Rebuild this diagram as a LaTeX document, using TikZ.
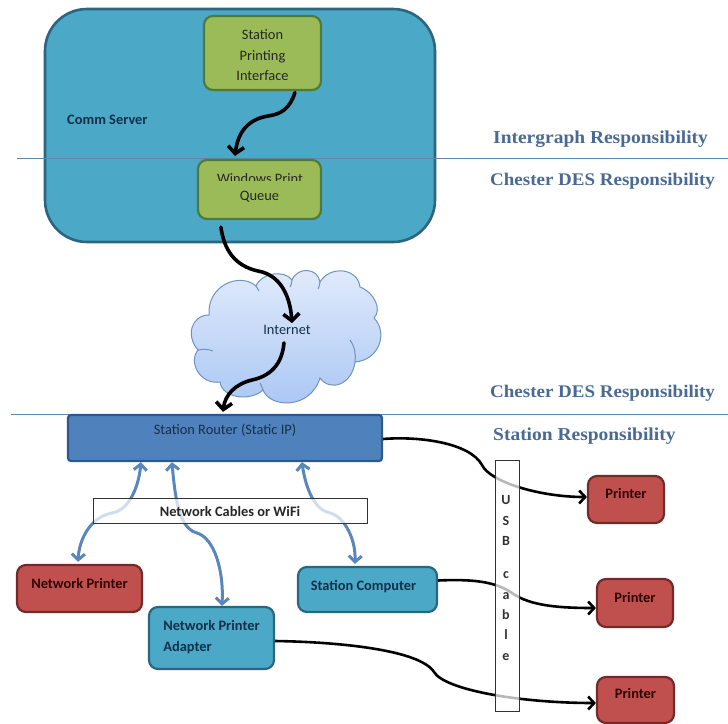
\documentclass[tikz,border=0pt]{standalone}
\usepackage{fontspec}
\setmainfont{Carlito}
\newfontfamily\headfont[FakeStretch=1.07]{Liberation Serif}
\usetikzlibrary{arrows.meta}
\definecolor{servfill}{HTML}{4BA8C6}
\definecolor{servline}{HTML}{2B6580}
\definecolor{greenfill}{HTML}{9BBB59}
\definecolor{greenline}{HTML}{4F7A3C}
\definecolor{redfill}{HTML}{C0504D}
\definecolor{redline}{HTML}{74292A}
\definecolor{routerfill}{HTML}{4F81BD}
\definecolor{routerline}{HTML}{2C5A88}
\definecolor{sepline}{HTML}{5E87A8}
\definecolor{headcol}{HTML}{4A6A92}
\definecolor{navytext}{HTML}{12304A}
\definecolor{cloudtop}{HTML}{E2EBFB}
\definecolor{cloudbot}{HTML}{A9C6F4}
\definecolor{cloudline}{HTML}{6F93BD}
\definecolor{netblue}{HTML}{5A86BC}
\tikzset{
  boxbase/.style={draw,line width=2.2pt,inner sep=0pt,rounded corners=9pt,font=\bfseries\fontsize{14.4}{16}\selectfont},
  servbox/.style={draw=servline,fill=servfill,line width=2.6pt,rounded corners=42pt},
  greenbox/.style={boxbase,draw=greenline,fill=greenfill,font=\fontsize{14.4}{20.5}\selectfont,text=black!85,align=center},
  redbox/.style={boxbase,draw=redline,fill=redfill,text=black!80!red},
  bluebox/.style={boxbase,draw=servline,fill=servfill,text=navytext},
  routerbox/.style={boxbase,draw=routerline,fill=routerfill,rounded corners=3pt,text=navytext,font=\fontsize{14.4}{16}\selectfont},
  sepln/.style={draw=sepline,line width=1pt},
  headtxt/.style={anchor=west,inner sep=0pt,text=headcol,font=\headfont\bfseries\fontsize{18.2}{20}\selectfont},
  headtxtnarrow/.style={headtxt,font=\headfont\bfseries\fontsize{17.75}{20}\selectfont},
  plaintxt/.style={inner sep=0pt,font=\bfseries\fontsize{14.4}{16}\selectfont,text=navytext},
  overlaybox/.style={draw=black!80,line width=1pt,fill=white,fill opacity=.72,text opacity=1,inner sep=0pt},
  blackarrow/.style={draw=black,line width=3.6pt,line cap=round,-{Straight Barb[length=7pt,width=16pt,line width=3.6pt]}},
  thinarrow/.style={draw=black,line width=2.6pt,-{Straight Barb[length=6pt,width=13pt,line width=2.6pt]}},
  netarrow/.style={draw=netblue,line width=3pt,{Straight Barb[length=6pt,width=13pt,line width=3pt]}-{Straight Barb[length=6pt,width=13pt,line width=3pt]}},
  cloudshape/.style={draw=cloudline,line width=1pt,top color=cloudtop,bottom color=cloudbot},
  cloudarc/.style={draw=cloudline,line width=1pt}
}
\begin{document}
\begin{tikzpicture}[x=1pt,y=-1pt]
\useasboundingbox (0,0) rectangle (728,723);
% server
\node[servbox,minimum width=390pt,minimum height=233pt] (server) at (240,125.5) {};
\node[plaintxt,anchor=west] (commlabel) at (67,120) {Comm Server};
% separators
\coordinate (sepAl) at (17,158); \coordinate (sepAr) at (728,158);
\coordinate (sepBl) at (11,414); \coordinate (sepBr) at (728,414);
\draw[sepln] (sepAl) -- (sepAr);
\draw[sepln] (sepBl) -- (sepBr);
% green boxes
\node[greenbox,minimum width=117pt,minimum height=74pt] (spi) at (262.5,53) {\raisebox{-6.6pt}[0pt][0pt]{\begin{tabular}{@{}c@{}}Station\\Printing\\Interface\end{tabular}}};
\node[greenbox,minimum width=123pt,minimum height=59pt] (queue) at (259.5,189.5) {\raisebox{-11pt}[0pt][0pt]{Queue}};
\begin{scope}
\clip (198,160) rectangle (321,180.5);
\node[inner sep=0pt,font=\fontsize{14.4}{16}\selectfont,text=black!85] (queuetop) at (260,178.5) {Windows Print};
\end{scope}
% cloud
\path[cloudshape] (209,315)
  .. controls (207,285) and (240,272) .. (256,286)
  .. controls (262,272) and (285,270) .. (292,280)
  .. controls (298,266) and (318,268) .. (320,282)
  .. controls (330,265) and (358,268) .. (360,287)
  .. controls (375,293) and (382,310) .. (374,318)
  .. controls (388,332) and (380,360) .. (355,362)
  .. controls (352,385) and (330,392) .. (320,378)
  .. controls (310,410) and (270,408) .. (263,390)
  .. controls (250,402) and (222,398) .. (220,382)
  .. controls (200,385) and (188,362) .. (198,350)
  .. controls (185,335) and (192,315) .. (209,315) -- cycle;
\draw[cloudarc] (198,350) .. controls (203,349) and (208,349) .. (213,351);
\draw[cloudarc] (350,340) .. controls (355,347) and (356,355) .. (355,362);
\draw[cloudarc] (256,286) .. controls (258,288) and (258,289) .. (259,291);
\draw[cloudarc] (292,280) .. controls (292,283) and (291,285) .. (290,287);
\draw[cloudarc] (320,282) .. controls (320,284) and (319,287) .. (318,289);
\draw[cloudarc] (263,390) .. controls (262,387) and (261,385) .. (260,383);
\node[inner sep=0pt,font=\fontsize{14.4}{16}\selectfont,text=navytext] (internet) at (287,330) {Internet};
% router
\node[routerbox,minimum width=314pt,minimum height=46pt] (router) at (225,438) {\raisebox{4pt}[0pt][0pt]{Station Router (Static IP)}};
% end devices
\node[redbox,minimum width=125pt,minimum height=47pt] (netprinter) at (79.5,588.5) {\raisebox{0.5pt}[0pt][0pt]{Network Printer}};
\node[bluebox,minimum width=139pt,minimum height=45pt] (computer) at (367.5,589.5) {\hspace*{-8pt}\raisebox{-0.5pt}[0pt][0pt]{Station Computer}};
\node[bluebox,minimum width=125pt,minimum height=62pt,font=\bfseries\fontsize{14.4}{21}\selectfont] (adapter) at (211.5,638) {\raisebox{-2.6pt}[0pt][0pt]{\begin{tabular}{@{}l@{}}Network Printer\\Adapter\end{tabular}}};
\node[redbox,minimum width=76pt,minimum height=47pt] (printerA) at (626,499.5) {\raisebox{1pt}[0pt][0pt]{Printer}};
\node[redbox,minimum width=76pt,minimum height=48pt] (printerB) at (635,603) {\raisebox{0.5pt}[0pt][0pt]{Printer}};
\node[redbox,minimum width=77pt,minimum height=46pt] (printerC) at (635.5,700) {\raisebox{1.5pt}[0pt][0pt]{Printer}};
% black connectors
\draw[blackarrow] ([xshift=92pt,yshift=-1.5pt]spi.south west) .. controls (290,108) and (282,114) .. (268,116) .. controls (250,119) and (238,130) .. (235,156);
\draw[blackarrow] ([xshift=24pt,yshift=-7pt]queue.south west) .. controls (224,250) and (235,266) .. (258,271) .. controls (280,275) and (290,295) .. ([xshift=5pt,yshift=2pt]internet.north);
\draw[blackarrow] ([xshift=-3pt,yshift=-8pt]internet.south) .. controls (282,365) and (270,376) .. (252,380) .. controls (235,384) and (225,395) .. ([xshift=-2pt,yshift=2pt]router.north);
% connectors that pass under the overlay boxes
\draw[netarrow] ([xshift=74pt]router.south west) .. controls (139,485) and (130,510) .. (112,513) .. controls (90,517) and (79,540) .. ([xshift=-1.5pt,yshift=2pt]netprinter.north);
\draw[netarrow] ([xshift=105pt]router.south west) .. controls (175,495) and (178,528) .. (197,533) .. controls (214,538) and (224,570) .. ([xshift=74pt]adapter.north west);
\draw[netarrow] ([xshift=235pt]router.south west) .. controls (306,490) and (315,510) .. (330,513) .. controls (345,517) and (356,540) .. ([xshift=58pt,yshift=2pt]computer.north west);
\draw[thinarrow] ([yshift=-1pt]router.east) .. controls (420,436) and (470,443) .. (482,465) .. controls (490,482) and (540,497) .. ([yshift=2.5pt]printerA.west);
\draw[thinarrow] ([yshift=9pt]computer.east) .. controls (470,579) and (495,581) .. (512,593) .. controls (530,606) and (560,608) .. ([yshift=-5pt]printerB.west);
\draw[thinarrow] ([yshift=-3pt]adapter.east) .. controls (340,642) and (420,650) .. (434,672) .. controls (445,690) and (520,703) .. ([yshift=-3pt]printerC.west);
% overlay boxes
\node[overlaybox,minimum width=274pt,minimum height=25pt,font=\bfseries\fontsize{14.4}{16}\selectfont,text=black!85] (cables) at (230,510.5) {\raisebox{-6pt}[0pt][0pt]{Network Cables or WiFi}};
\node[overlaybox,minimum width=24pt,minimum height=251pt] (usb) at (507,585.5) {};
\node[inner sep=0pt,align=center,font=\bfseries\fontsize{14}{20.3}\selectfont,text=black!80] (usbtext) at (506,578) {U\\S\\B\\[13pt]c\\a\\b\\l\\e};
% headings
\node[headtxt] (headA) at (493,139) {Intergraph Responsibility};
\node[headtxtnarrow] (headB) at (490,181) {Chester DES Responsibility};
\node[headtxtnarrow] (headC) at (490,393) {Chester DES Responsibility};
\node[headtxt] (headD) at (493,436) {Station Responsibility};
\end{tikzpicture}
\end{document}
